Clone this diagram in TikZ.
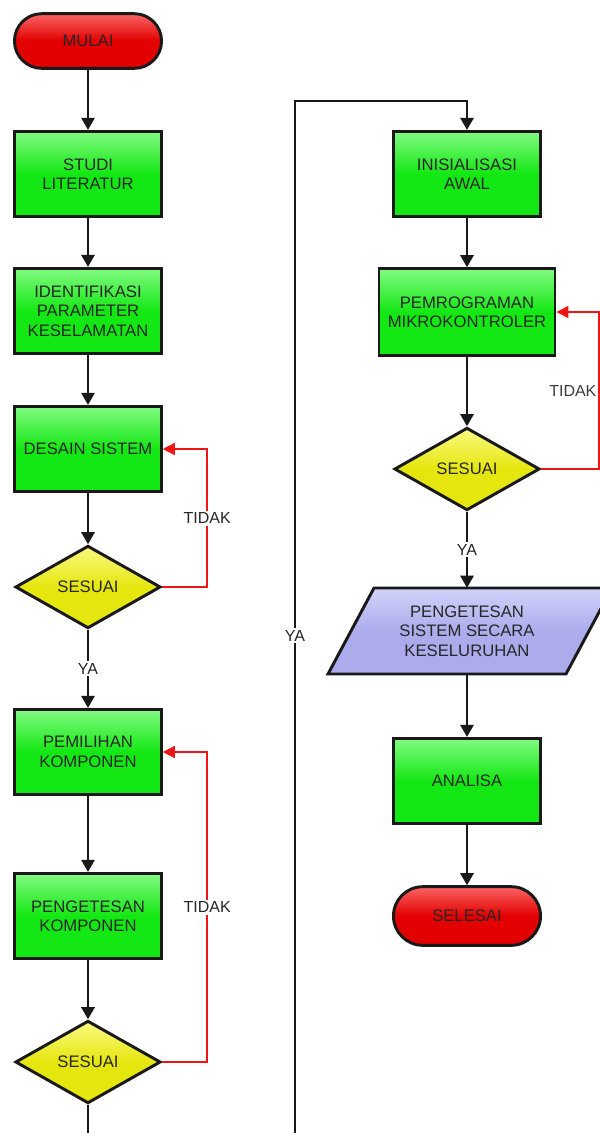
\documentclass[tikz,border=0pt]{standalone}
\usepackage{fontspec}
\setmainfont{Liberation Sans}
\usetikzlibrary{shapes.geometric,shapes.misc,arrows.meta}

\definecolor{hijau}{RGB}{20,232,20}
\definecolor{hijaumuda}{RGB}{130,250,130}
\definecolor{merah}{RGB}{226,0,0}
\definecolor{merahmuda}{RGB}{250,100,100}
\definecolor{kuning}{RGB}{230,230,15}
\definecolor{kuningmuda}{RGB}{250,250,130}
\definecolor{ungu}{RGB}{172,172,236}
\definecolor{ungumuda}{RGB}{210,210,250}
\definecolor{garis}{RGB}{25,25,25}
\definecolor{merahgaris}{RGB}{240,20,20}

\tikzset{
  teks/.style={font=\fontsize{12.5}{14.5}\selectfont, text=black!85, align=center},
  kotak/.style={teks, draw=garis, line width=2.2pt, rectangle, minimum width=110pt, minimum height=64pt,
    top color=hijaumuda, bottom color=hijau, middle color=hijau},
  terminal/.style={teks, draw=garis, line width=2.2pt, rounded rectangle, minimum width=117pt, minimum height=41pt,
    top color=merahmuda, bottom color=merah, middle color=merah},
  keputusan/.style={teks, draw=garis, line width=2.2pt, diamond, inner sep=0pt, minimum width=109pt, minimum height=62pt,
    top color=kuningmuda, bottom color=kuning, middle color=kuning},
  jajar/.style={draw=garis, line width=2.2pt, line join=miter, top color=ungumuda, bottom color=ungu, middle color=ungu},
  masukan/.style={teks, minimum width=150pt, minimum height=64.5pt},
  lbl/.style={font=\fontsize{12}{14}\selectfont, text=black!85, fill=white, inner sep=1.5pt},
  panah/.style={draw=garis, line width=1.4pt, -{Triangle[length=9pt,width=10pt]}},
  balik/.style={draw=merahgaris, line width=1.1pt, -{Triangle[length=9pt,width=9pt]}}
}

\begin{document}
\begin{tikzpicture}[x=0.75pt,y=0.75pt,yscale=-1,xscale=1]
    %set diagram to 600 x 1133
    \clip (0,0) rectangle (600,1133);
    \fill[white] (0,0) rectangle (600,1133);

    % Left column
    \node[terminal] (mulai) at (88,41) {MULAI};
    \node[kotak] (studi) at (88,174) {STUDI\\LITERATUR};
    \node[kotak] (identifikasi) at (88,311) {IDENTIFIKASI\\PARAMETER\\KESELAMATAN};
    \node[kotak] (desain) at (88,449) {DESAIN SISTEM};
    \node[keputusan] (cek1) at (88,587) {SESUAI};
    \node[kotak] (pilih) at (88,752) {PEMILIHAN\\KOMPONEN};
    \node[kotak] (ujikomp) at (88,916) {PENGETESAN\\KOMPONEN};
    \node[keputusan] (cek2) at (88,1062) {SESUAI};

    % Right column
    \node[kotak] (inisial) at (467,174) {INISIALISASI\\AWAL};
    \node[kotak, minimum width=132pt, minimum height=65pt] (program) at (467,312) {PEMROGRAMAN\\MIKROKONTROLER};
    \node[keputusan] (cek3) at (467,469) {SESUAI};
    %Shape: Parallelogram
    \draw[jajar] (374,588) -- (612,588) -- (566,674) -- (328,674) -- cycle;
    \node[masukan] (ujisistem) at (467,631) {PENGETESAN\\SISTEM SECARA\\KESELURUHAN};
    \node[kotak] (analisa) at (467,781) {ANALISA};
    \node[terminal, minimum height=44pt] (selesai) at (467,916) {SELESAI};

    % Path between the columns
    \coordinate (sudut1) at (88,1150);
    \coordinate (sudut2) at (295,1150);
    \coordinate (sudut3) at (295,101);

    % Straight Lines
    \draw[panah] (mulai) -- (studi);
    \draw[panah] (studi) -- (identifikasi);
    \draw[panah] (identifikasi) -- (desain);
    \draw[panah] (desain) -- (cek1);
    \draw[panah] (cek1) -- node[lbl]{YA} (pilih);
    \draw[panah] (pilih) -- (ujikomp);
    \draw[panah] (ujikomp) -- (cek2);
    \draw[panah] (cek2) -- (sudut1) -- (sudut2) -- node[lbl,pos=0.49]{YA} (sudut3) -| (inisial.north);
    \draw[panah] (inisial) -- (program);
    \draw[panah] (program) -- (cek3);
    \draw[panah] (cek3) -- node[lbl]{YA} (ujisistem);
    \draw[panah] (ujisistem) -- (analisa);
    \draw[panah] (analisa) -- (selesai);

    % Loops back
    \draw[balik] (cek1.east) -- ++(45,0) |- node[lbl,pos=0.25]{TIDAK} (desain.east);
    \draw[balik] (cek2.east) -- ++(45,0) |- node[lbl,pos=0.25]{TIDAK} (pilih.east);
    \draw[balik] (cek3.east) -- ++(58,0) |- node[lbl,pos=0.25,anchor=east,fill opacity=0.9]{TIDAK} (program.east);

\end{tikzpicture}
\end{document}
